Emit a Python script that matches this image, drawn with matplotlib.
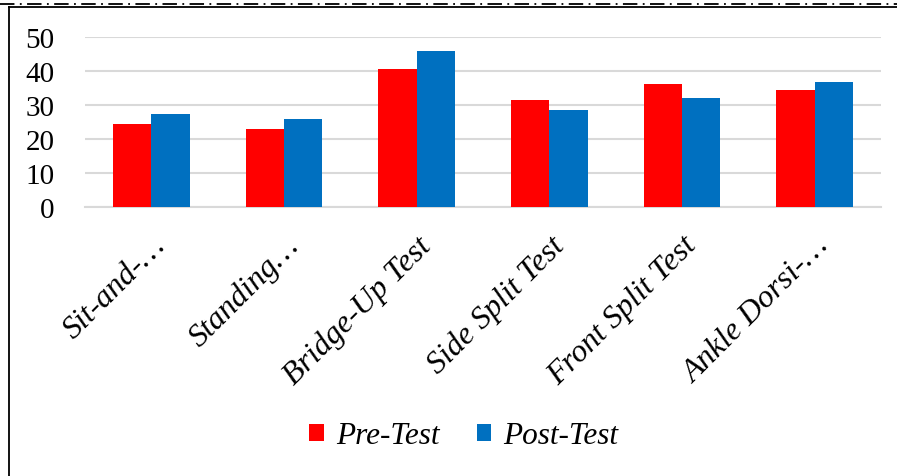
import numpy as np
import matplotlib.pyplot as plt
from matplotlib.lines import Line2D

categories = ['Sit-and-\u2026', 'Standing\u2026', 'Bridge-Up Test',
              'Side Split Test', 'Front Split Test', 'Ankle Dorsi-\u2026']
pre_test = [24.5, 23.0, 40.7, 31.5, 36.3, 34.4]
post_test = [27.4, 26.0, 45.9, 28.6, 32.1, 36.9]

plt.rcParams['font.family'] = 'Liberation Serif'

W, H = 897, 477
fig = plt.figure(figsize=(W / 100, H / 100), dpi=100)
ax = fig.add_axes([85 / W, 1 - 208 / H, (881 - 85) / W, (208 - 38) / H])

x = np.arange(len(categories))
w = 0.288
ax.bar(x - w / 2, pre_test, w, color='#ff0000', label='Pre-Test', zorder=3)
ax.bar(x + w / 2, post_test, w, color='#0070c0', label='Post-Test', zorder=3)

ax.set_xlim(-0.5, len(categories) - 0.5)
ax.set_ylim(0, 50)
ax.set_yticks([0, 10, 20, 30, 40, 50])
ax.yaxis.grid(True, color='#d9d9d9', linewidth=1.5, zorder=0)
for s in ['top', 'right', 'left']:
    ax.spines[s].set_visible(False)
ax.spines['bottom'].set_color('#d9d9d9')
ax.spines['bottom'].set_linewidth(1.5)
ax.tick_params(axis='both', length=0, labelsize=21)
ax.tick_params(axis='y', pad=22)

ax.set_xticks(x)
ax.set_xticklabels(categories, rotation=45, ha='right', va='top',
                   rotation_mode='anchor', style='italic', fontsize=23)
ax.tick_params(axis='x', pad=17)

leg = fig.legend(loc='center', bbox_to_anchor=(464 / W, 1 - 437 / H), ncol=2,
                 frameon=False, prop={'style': 'italic', 'size': 22.5},
                 handlelength=0.45, handleheight=0.45, handletextpad=0.4,
                 columnspacing=1.2)

# page border lines
fig.add_artist(Line2D([0, 1], [1 - 4.5 / H, 1 - 4.5 / H], color='black',
                      linewidth=1.3, linestyle=(0, (8, 3, 1, 3))))
fig.add_artist(Line2D([8.5 / W, 1], [1 - 7.5 / H, 1 - 7.5 / H], color='black',
                      linewidth=1.3))
fig.add_artist(Line2D([8.5 / W, 8.5 / W], [0, 1 - 7.5 / H], color='black',
                      linewidth=1.3))

fig.savefig('out.png', dpi=100)
